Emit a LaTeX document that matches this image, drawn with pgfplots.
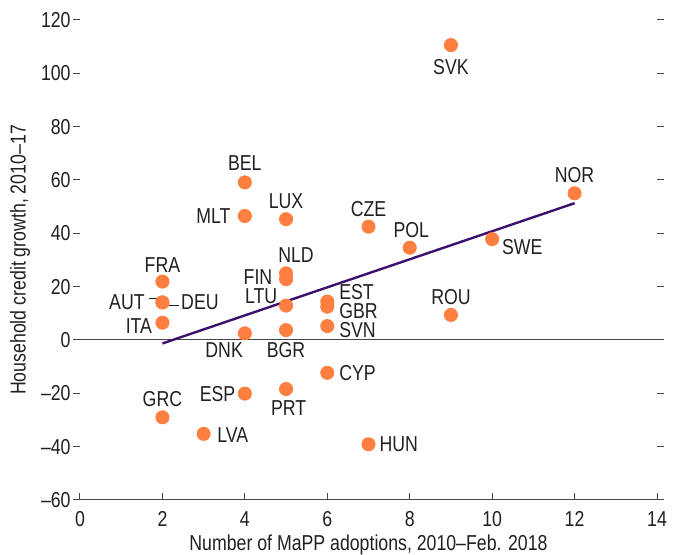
\documentclass[border=0pt]{standalone}
\usepackage{pgfplots}
\pgfplotsset{compat=1.18}
\usepackage{fontspec}
\setmainfont{Liberation Sans}[FakeStretch=0.82]
\definecolor{dotorange}{RGB}{255,127,64}
\definecolor{fitpurple}{RGB}{62,16,110}
\definecolor{axgray}{RGB}{70,70,70}
\definecolor{txt}{RGB}{35,31,32}
\pgfplotstableread{
x y
9 110.6
12 55.0
4 59.1
4 46.5
5 45.3
7 42.5
8 34.6
10 37.8
5 25.0
5 22.8
5 12.9
2 21.9
2 14.1
2 14.1
2 6.5
6 14.4
6 12.5
6 5.2
4 2.5
5 3.7
6 -12.3
4 -20.1
5 -18.4
2 -29.0
3 -35.2
7 -39.1
9 9.4
}\countries
\begin{document}
\begin{tikzpicture}[font=\fontsize{10.8}{13}\selectfont, text=txt]
\begin{axis}[
  name=ax,
  scale only axis, width=288.5pt, height=240pt,
  xmin=0, xmax=14, ymin=-60, ymax=120,
  xtick={0,2,...,14}, ytick={-60,-40,...,120},
  yticklabels={–60,–40,–20,0,20,40,60,80,100,120},
  /pgf/number format/assume math mode=true,
  separate axis lines,
  axis x line*=bottom,
  x axis line style={axgray, line width=0.5pt},
  y axis line style={draw=none},
  ytick pos=both, yticklabel pos=left,
  tick align=outside,
  major tick length=3.5pt,
  tick style={axgray, line width=0.5pt},
  x tick style={yshift=3.5pt},
  yticklabel style={inner xsep=1pt},
  xticklabel style={inner ysep=2pt},
  xlabel={Number of MaPP adoptions, 2010–Feb. 2018},
  ylabel={Household credit growth, 2010–17},
  xlabel style={at={(axis description cs:0.5,-0.09375)}, anchor=center},
  ylabel style={at={(axis description cs:-0.104,0.5)}, anchor=center},
  clip=false,
]
\addplot[axgray, line width=0.5pt] coordinates {(0,0) (14,0)};
\addplot[fitpurple, line width=1.2pt] coordinates {(2,-1.3) (12,51.3)};
\addplot[only marks, mark=*, mark size=3.3pt, color=dotorange, mark options={draw=dotorange, fill=dotorange}] table[x=x,y=y] {\countries};
\begin{scope}[every node/.style={inner sep=0pt}]
\node[anchor=center, yshift=-11pt] at (axis cs:9,110.6) {SVK};
\node[anchor=center, yshift=9pt] at (axis cs:12,55.0) {NOR};
\node[anchor=center, yshift=9.5pt] at (axis cs:4,59.1) {BEL};
\node[anchor=east, xshift=-7pt] at (axis cs:4,46.5) {MLT};
\node[anchor=center, yshift=8.8pt] at (axis cs:5,45.3) {LUX};
\node[anchor=center, yshift=8.7pt] at (axis cs:7,42.5) {CZE};
\node[anchor=center, yshift=8.8pt, xshift=0.8pt] at (axis cs:8,34.6) {POL};
\node[anchor=west, xshift=4.8pt, yshift=-3.7pt] at (axis cs:10,37.8) {SWE};
\node[anchor=center, xshift=5pt, yshift=9pt] at (axis cs:5,25.0) {NLD};
\node[anchor=east, xshift=-6.7pt, yshift=1.3pt] at (axis cs:5,22.8) {FIN};
\node[anchor=east, xshift=-4.2pt, yshift=4.5pt] at (axis cs:5,12.9) {LTU};
\node[anchor=center, yshift=8.4pt] at (axis cs:2,21.9) {FRA};
\node[anchor=east, xshift=-8.7pt] at (axis cs:2,14.1) {AUT};
\draw[txt, line width=0.5pt] ([xshift=-6.7pt, yshift=2pt]axis cs:2,14.1) -- ([xshift=-2pt, yshift=2pt]axis cs:2,14.1);
\node[anchor=west, xshift=9.2pt] at (axis cs:2,14.1) {DEU};
\draw[txt, line width=0.5pt] ([xshift=2.5pt, yshift=-1.4pt]axis cs:2,14.1) -- ([xshift=8.4pt, yshift=-1.4pt]axis cs:2,14.1);
\node[anchor=east, xshift=-5pt, yshift=-1.7pt] at (axis cs:2,6.5) {ITA};
\node[anchor=west, xshift=5.8pt, yshift=4.8pt] at (axis cs:6,14.4) {EST};
\node[anchor=west, xshift=5.8pt, yshift=-2.2pt] at (axis cs:6,12.5) {GBR};
\node[anchor=west, xshift=5.8pt, yshift=-1.8pt] at (axis cs:6,5.2) {SVN};
\node[anchor=east, xshift=-0.8pt, yshift=-8.3pt] at (axis cs:4,2.5) {DNK};
\node[anchor=center, yshift=-10pt] at (axis cs:5,3.7) {BGR};
\node[anchor=west, xshift=5.8pt] at (axis cs:6,-12.3) {CYP};
\node[anchor=east, xshift=-4.6pt] at (axis cs:4,-20.1) {ESP};
\node[anchor=center, xshift=1.3pt, yshift=-9.7pt] at (axis cs:5,-18.4) {PRT};
\node[anchor=center, yshift=9.2pt] at (axis cs:2,-29.0) {GRC};
\node[anchor=west, xshift=6.7pt, yshift=-0.8pt] at (axis cs:3,-35.2) {LVA};
\node[anchor=west, xshift=5.3pt] at (axis cs:7,-39.1) {HUN};
\node[anchor=center, yshift=9pt] at (axis cs:9,9.4) {ROU};
\end{scope}
\end{axis}
\pgfresetboundingbox
\path[use as bounding box] ([xshift=-40pt,yshift=-27.5pt]ax.south west) rectangle ([xshift=9pt,yshift=10pt]ax.north east);
\end{tikzpicture}
\end{document}
